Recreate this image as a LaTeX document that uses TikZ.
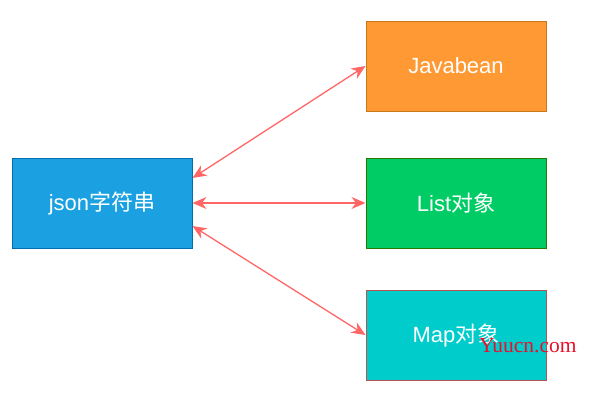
\documentclass[tikz,border=0pt]{standalone}
\usepackage{fontspec}
\setmainfont{Liberation Sans}
\newfontfamily\cjk{Noto Sans CJK SC}
\newfontfamily\wmfont{Liberation Serif}
\usetikzlibrary{arrows.meta}
\definecolor{jsonfill}{HTML}{1BA1E2}
\definecolor{jsonline}{HTML}{006EAF}
\definecolor{jbfill}{HTML}{FF9933}
\definecolor{jbline}{HTML}{C77A17}
\definecolor{listfill}{HTML}{00CC66}
\definecolor{listline}{HTML}{2D7600}
\definecolor{mapfill}{HTML}{00CCCC}
\definecolor{mapline}{HTML}{B85450}
\definecolor{arrowc}{HTML}{FF6666}
\definecolor{wmred}{HTML}{E8102A}
\begin{document}
\begin{tikzpicture}[x=1pt,y=-1pt,
  box/.style={draw, line width=1pt, minimum width=180pt, minimum height=90pt, inner sep=0pt, text=white, font=\fontsize{22}{24}\selectfont},
  link/.style={draw=arrowc, line width=1.3pt, {Stealth[length=14pt,width=12pt,inset=4.5pt]}-{Stealth[length=14pt,width=12pt,inset=4.5pt]}}]
\useasboundingbox (0,0) rectangle (589,400);
\node[box, fill=jsonfill, draw=jsonline] (j) at (102,203) {json{\cjk 字符串}};
\node[box, fill=jbfill, draw=jbline] (jb) at (456,66) {Javabean};
\node[box, fill=listfill, draw=listline] (l) at (456,203) {List{\cjk 对象}};
\node[box, fill=mapfill, draw=mapline] (m) at (456,335) {Map{\cjk 对象}};
\draw[link] ([yshift=25pt]j.east) -- (jb.west);
\draw[link] (j.east) -- (l.west);
\draw[link] ([yshift=-23pt]j.east) -- (m.west);
\node[anchor=base west, inner sep=0pt, text=wmred, font=\wmfont\fontsize{21.5}{23}\selectfont] (wm) at (479,352) {Yuucn.com};
\end{tikzpicture}
\end{document}
